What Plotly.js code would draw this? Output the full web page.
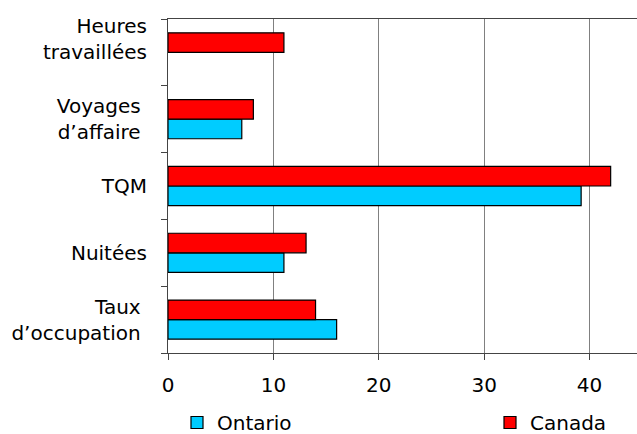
<!DOCTYPE html>
<html>
<head>
<meta charset="utf-8">
<script src="https://cdn.plot.ly/plotly-3.0.1.min.js"></script>
<style>html,body{margin:0;padding:0;background:#fff;overflow:hidden;}#wrap{width:637px;height:434px;overflow:hidden;}</style>
</head>
<body>
<div id="wrap"><div id="chart"></div></div>
<script>
// Categories listed bottom to top
const categories = ["Taux&nbsp;<br>d’occupation&nbsp;", "Nuitées", "TQM", "Voyages&nbsp;<br>d’affaire&nbsp;", "Heures<br>travaillées<br>&nbsp;"];
const ontario = [16, 11, 39.2, 7, null];
const canada = [14, 13.1, 42, 8.1, 11];
const xTicks = [0, 10, 20, 30, 40];

const font = {family: "DejaVu Sans, Verdana, sans-serif", size: 20, color: "#000"};

const data = [
  {type: "bar", orientation: "h", name: "Ontario", y: categories, x: ontario, legend: "legend",
   marker: {color: "#00CCFF", line: {color: "#000", width: 1.2}}},
  {type: "bar", orientation: "h", name: "Canada", y: categories, x: canada, legend: "legend2",
   marker: {color: "#FF0000", line: {color: "#000", width: 1.2}}}
];

const H = 460;
const legendY = (353 - 403) / 334;

const layout = {
  width: 637, height: H,
  margin: {l: 168, r: 0, t: 19, b: H - 353, pad: 0},
  paper_bgcolor: "#fff", plot_bgcolor: "#fff",
  font: font,
  barmode: "group", bargap: 0.415, bargroupgap: 0,
  showlegend: true,
  legend: {orientation: "h", x: (177 - 168) / 469, xanchor: "left", y: legendY, yanchor: "top",
           font: font, itemwidth: 30, bgcolor: "rgba(0,0,0,0)"},
  legend2: {orientation: "h", x: (490 - 168) / 469, xanchor: "left", y: legendY, yanchor: "top",
           font: font, itemwidth: 30, bgcolor: "rgba(0,0,0,0)"},
  xaxis: {range: [0, 44.5], tickvals: xTicks, ticktext: xTicks.map(String),
          showgrid: true, gridcolor: "#808080", gridwidth: 1,
          showline: true, linecolor: "#444", linewidth: 1, mirror: true,
          ticks: "outside", ticklen: 6, tickcolor: "#444", zeroline: false,
          ticklabelstandoff: 8, fixedrange: true},
  yaxis: {type: "category", categoryorder: "array", categoryarray: categories,
          showgrid: false, showline: true, linecolor: "#444", linewidth: 1,
          ticks: "outside", ticklen: 6, tickcolor: "#444", tickson: "boundaries",
          ticklabelstandoff: 16, fixedrange: true}
};

Plotly.newPlot("chart", data, layout, {displayModeBar: false, staticPlot: true});
</script>
</body>
</html>
